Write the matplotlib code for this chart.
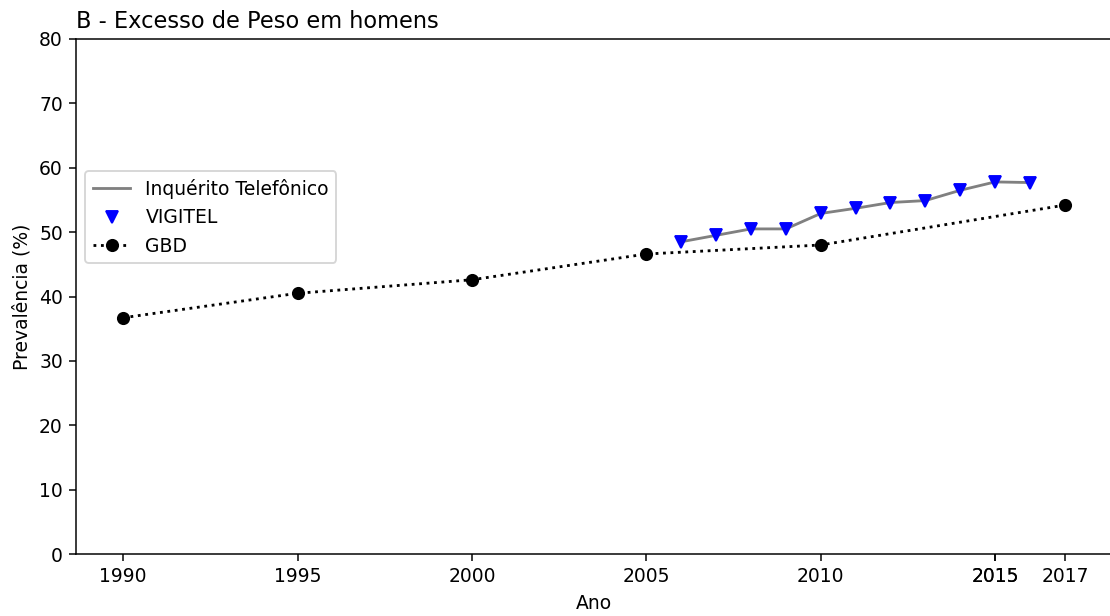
import matplotlib
matplotlib.use("Agg")
import matplotlib.pyplot as plt

# Survey data: overweight prevalence among men (%)
vigitel_years = [2006, 2007, 2008, 2009, 2010, 2011, 2012, 2013, 2014, 2015, 2016]
vigitel_values = [48.5, 49.5, 50.5, 50.5, 52.9, 53.7, 54.6, 54.9, 56.5, 57.8, 57.7]

gbd_years = [1990, 1995, 2000, 2005, 2010, 2017]
gbd_values = [36.7, 40.5, 42.6, 46.6, 48.0, 54.2]

xtick_years = [1990, 1995, 2000, 2005, 2010, 2015, 2015, 2017]

DPI = 135
W, H = 1110, 616
fig = plt.figure(figsize=(W / DPI, H / DPI), dpi=DPI)
ax = fig.add_axes([76 / W, (H - 554) / H, (1112 - 76) / W, (554 - 39) / H])

ax.plot(vigitel_years, vigitel_values, color="gray",
        label="Inquérito Telefônico", zorder=2)
ax.plot(vigitel_years, vigitel_values, linestyle="none", marker="v",
        color="blue", label="VIGITEL", zorder=3)
ax.plot(gbd_years, gbd_values, linestyle=":", marker="o", color="black",
        label="GBD", zorder=3)

ax.set_ylim(0, 80)
ax.set_xticks(xtick_years)
ax.set_xticklabels([str(y) for y in xtick_years])
ax.set_xlabel("Ano")
ax.set_ylabel("Prevalência (%)")
ax.set_title("B - Excesso de Peso em homens", loc="left")

ax.legend(loc="center left", bbox_to_anchor=(0.0, 0.654))

fig.savefig("out.png", dpi=DPI)
